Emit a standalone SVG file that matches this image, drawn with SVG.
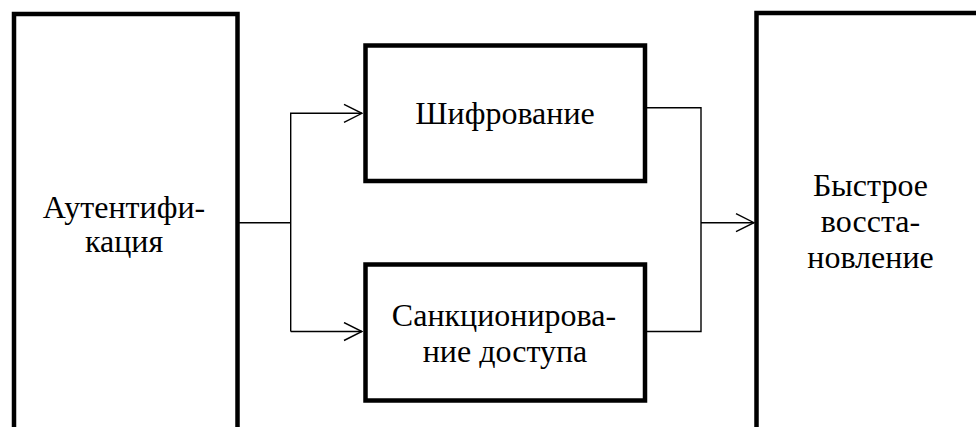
<svg xmlns="http://www.w3.org/2000/svg" width="976" height="427" viewBox="0 0 976 427">
  <defs>
    <marker id="arrow" viewBox="0 0 20 20" refX="19" refY="10" markerWidth="20" markerHeight="20" markerUnits="userSpaceOnUse" orient="auto">
      <path d="M1,1 L19,10 L1,19" fill="none" stroke="#000" stroke-width="1.4"/>
    </marker>
  </defs>
  <style>
    .box { fill: #fff; stroke: #000; stroke-width: 4.5; }
    .label { font-family: "Liberation Serif", "DejaVu Serif", serif; font-size: 32px; fill: #000; text-anchor: middle; }
    .wire { fill: none; stroke: #000; stroke-width: 1.4; }
  </style>
  <rect width="976" height="427" fill="#fff"/>

  <g id="auth">
    <rect class="box" x="14" y="14" width="223.5" height="430"/>
    <text class="label" x="124" y="218">Аутентифи-</text>
    <text class="label" x="124" y="251.5">кация</text>
  </g>

  <g id="encrypt">
    <rect class="box" x="365.5" y="45.5" width="279.5" height="135.5"/>
    <text class="label" x="505" y="124">Шифрование</text>
  </g>

  <g id="access">
    <rect class="box" x="365.5" y="264.5" width="279.5" height="136"/>
    <text class="label" x="504" y="326">Санкционирова-</text>
    <text class="label" x="505" y="362">ние доступа</text>
  </g>

  <g id="recovery">
    <rect class="box" x="756.5" y="13" width="240" height="430"/>
    <text class="label" x="870.5" y="196">Быстрое</text>
    <text class="label" x="870.5" y="232">восста-</text>
    <text class="label" x="870.5" y="268">новление</text>
  </g>

  <g id="connectors">
    <path class="wire" d="M237.5,222.7 H290.7"/>
    <path class="wire" d="M290.7,331.5 V113.3 H362" marker-end="url(#arrow)"/>
    <path class="wire" d="M290.7,331.5 H362" marker-end="url(#arrow)"/>
    <path class="wire" d="M645,107.7 H701 V331.5 H645"/>
    <path class="wire" d="M701,222.7 H754" marker-end="url(#arrow)"/>
  </g>
</svg>
